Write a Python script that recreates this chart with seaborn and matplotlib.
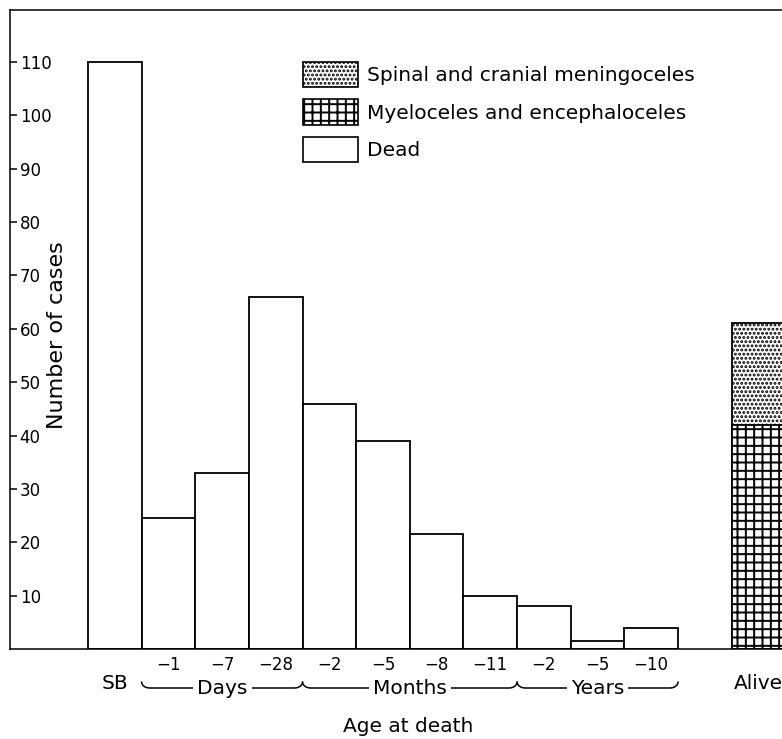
import numpy as np
import matplotlib
matplotlib.use("Agg")
import matplotlib.pyplot as plt
import matplotlib.transforms as mtransforms
from matplotlib.patches import Patch
import seaborn as sns

# Values
age_labels = ["SB", "−1", "−7", "−28", "−2", "−5", "−8", "−11", "−2", "−5", "−10"]
dead_counts = [110, 24.5, 33, 66, 46, 39, 21.5, 10, 8, 1.5, 4]
group_names = ["Days", "Months", "Years"]
group_sizes = [3, 4, 3]
alive_label = "Alive"
alive_myelo = 42      # myeloceles and encephaloceles
alive_meningo = 19    # spinal and cranial meningoceles
legend_labels = ["Spinal and cranial meningoceles",
                 "Myeloceles and encephaloceles",
                 "Dead"]
y_ticks = [10, 20, 30, 40, 50, 60, 70, 80, 90, 100, 110]

# Style
sns.set_style("ticks")
plt.rcParams["font.family"] = ["DejaVu Sans"]
plt.rcParams["hatch.linewidth"] = 1.4
for key in ["text.color", "axes.labelcolor", "xtick.color", "ytick.color",
            "axes.edgecolor"]:
    plt.rcParams[key] = "black"

fig = plt.figure(figsize=(7.82, 7.39), dpi=100)
ax = fig.add_axes([10 / 782, 90 / 739, 772 / 782, 639 / 739])

dead_x = np.arange(len(age_labels))
alive_x = len(age_labels) + 1

bar_kw = dict(native_scale=True, width=1, saturation=1, color="white",
              edgecolor="black", linewidth=1.3, errorbar=None, ax=ax)
sns.barplot(x=dead_x, y=dead_counts, **bar_kw)
sns.barplot(x=[alive_x], y=[alive_myelo + alive_meningo], hatch="....", **bar_kw)
sns.barplot(x=[alive_x], y=[alive_myelo], hatch="++", **bar_kw)

ax.set_xlim(-1.954, 12.438)
ax.set_ylim(0, 119.75)
ax.set_xlabel("")
ax.set_ylabel("")

# Axes frame
ax.spines["right"].set_visible(False)
for s in ["left", "top", "bottom"]:
    ax.spines[s].set_linewidth(1.1)
    ax.spines[s].set_color("black")

# y ticks drawn inside
ax.set_yticks(y_ticks)
ax.tick_params(axis="y", direction="in", length=5, width=1.1, pad=-7,
               labelsize=12, colors="black")
plt.setp(ax.get_yticklabels(), ha="left")

# x tick labels (first row)
ax.set_xticks(dead_x[1:])
ax.set_xticklabels(age_labels[1:])
ax.tick_params(axis="x", length=0, pad=5, labelsize=12, colors="black")

# Second row: SB, braces, Alive
trans = mtransforms.blended_transform_factory(ax.transData, ax.transAxes)
ax_h = 639.0
row2 = -40 / ax_h
ax.text(dead_x[0], row2, age_labels[0], transform=trans, ha="center",
        va="baseline", fontsize=14.5)
ax.text(alive_x, row2, alive_label, transform=trans, ha="center",
        va="baseline", fontsize=14.5)

edges = np.cumsum([1] + group_sizes) - 0.5
y_line = -39 / ax_h
h = 6 / ax_h
w = 0.15
theta = np.linspace(0, np.pi / 2, 8)
for name, x0, x1 in zip(group_names, edges[:-1], edges[1:]):
    lx = x0 + w - w * np.cos(theta)
    ly = y_line + h - h * np.sin(theta)
    rx = (x1 - w + w * np.cos(theta))[::-1]
    ry = ly[::-1]
    ax.plot(np.concatenate([lx, rx]), np.concatenate([ly, ry]),
            color="black", lw=1.1, transform=trans, clip_on=False)
    ax.text((x0 + x1) / 2, -45 / ax_h, name, transform=trans, ha="center",
            va="baseline", fontsize=14.5,
            bbox=dict(facecolor="white", edgecolor="none", pad=3))

ax.text(5.47, -83 / ax_h, "Age at death", transform=trans, ha="center",
        va="baseline", fontsize=14.5)
ax.text(47 / 772, 0.491, "Number of cases", transform=ax.transAxes,
        rotation=90, ha="center", va="center", fontsize=16)

# Legend
handles = [Patch(facecolor="white", edgecolor="black", hatch="....", linewidth=1.2),
           Patch(facecolor="white", edgecolor="black", hatch="++", linewidth=1.2),
           Patch(facecolor="white", edgecolor="black", linewidth=1.2)]
fig.legend(handles, legend_labels, loc="upper left",
           bbox_to_anchor=(303 / 782, 1 - 62 / 739), frameon=False,
           fontsize=14.5, handlelength=2.75, handleheight=1.55,
           labelspacing=0.6, handletextpad=0.45, borderpad=0, borderaxespad=0)

fig.savefig("out.png", dpi=100)
